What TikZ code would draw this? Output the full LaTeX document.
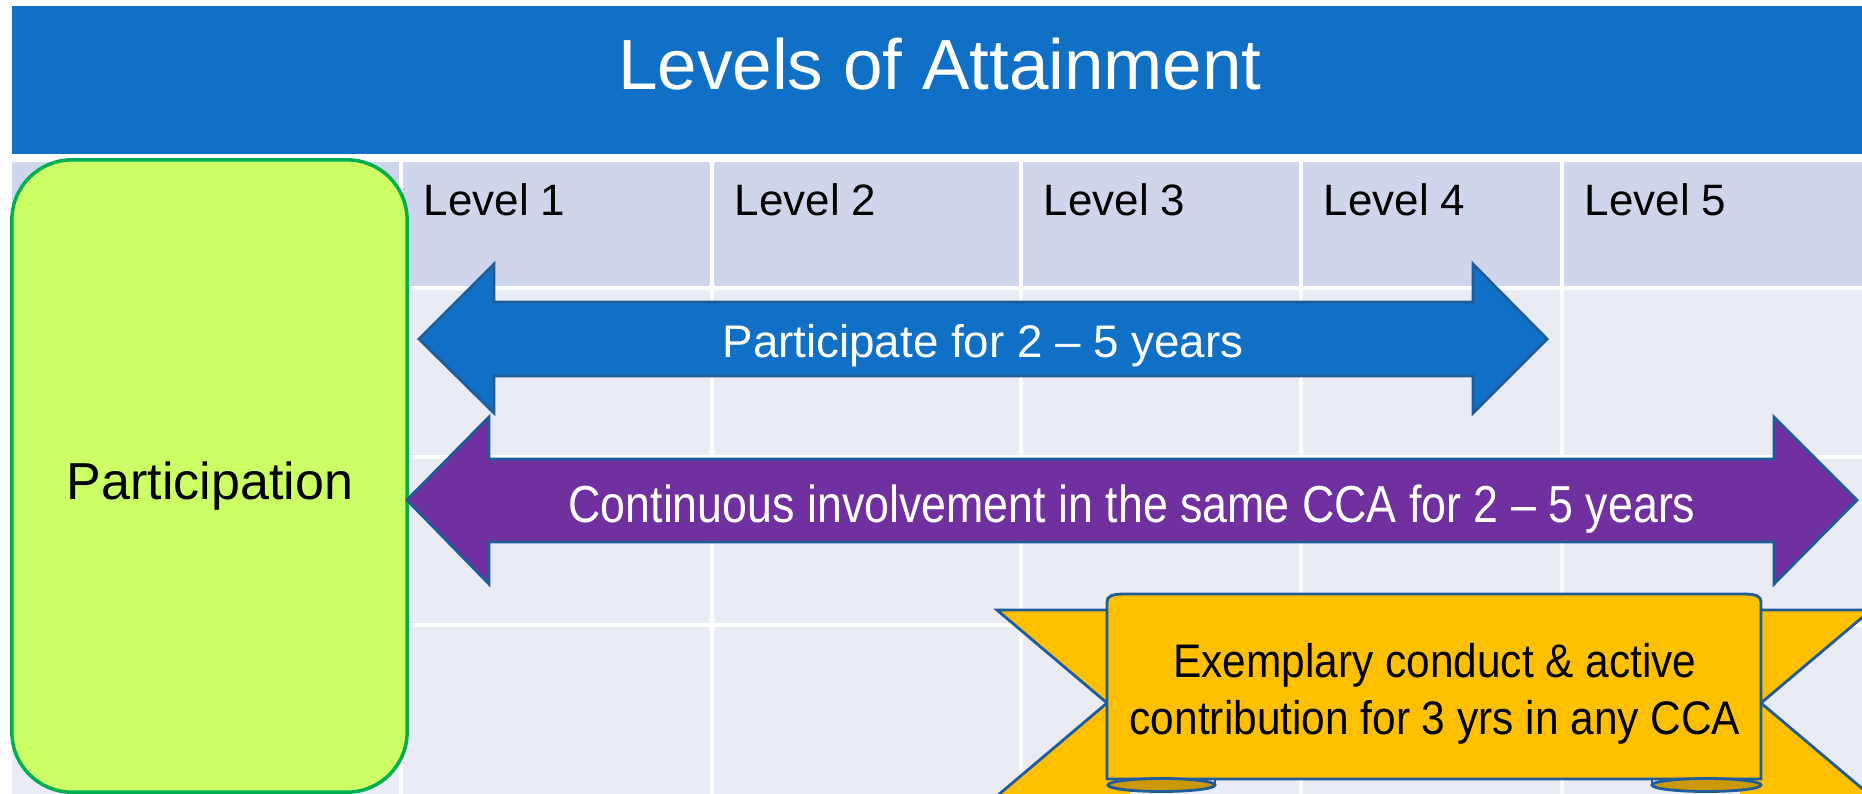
\documentclass[tikz,border=0pt]{standalone}
\usepackage{fontspec}
\setmainfont{Liberation Sans}
\newfontfamily\narrowfont[FakeStretch=0.86]{Liberation Sans}
\newfontfamily\ribbonfont[FakeStretch=0.9]{Liberation Sans}
\usetikzlibrary{positioning}

\definecolor{bannerblue}{HTML}{1070C6}
\definecolor{headrow}{HTML}{CFD5EA}
\definecolor{bodyrow}{HTML}{E9EBF5}
\definecolor{partgreen}{HTML}{CCFF66}
\definecolor{partedge}{HTML}{00B050}
\definecolor{arrowpurple}{HTML}{7030A0}
\definecolor{arrowedge}{HTML}{1F5C99}
\definecolor{ribbongold}{HTML}{FFC000}
\definecolor{folddark}{HTML}{C99A06}

\begin{document}
\begin{tikzpicture}
        [x=0.01cm,y=-0.01cm,
        levellabel/.style={anchor=base west,inner sep=0pt,
          font=\fontsize{12.5pt}{15pt}\selectfont},
        bigarrow/.style={draw=arrowedge,line width=0.8pt},
        arrowtext/.style={anchor=base,inner sep=0pt,text=white},
        ribbonpart/.style={draw=arrowedge,line width=0.8pt,fill=ribbongold}]
        \useasboundingbox (0,0) rectangle (1862,793);
        \clip (0,0) rectangle (1862,793);
        \fill[white] (0,0) rectangle (1862,793);
        %% title banner
        \fill[bannerblue] (12,6) rectangle (1870,154);
        \node[anchor=base,inner sep=0pt,text=white,
          font=\fontsize{20.2pt}{24pt}\selectfont] (title) at (940,89)
          {Levels of Attainment};
        %% table cells
        \foreach \xa/\xb in {10/401,401/712,712/1021,1021/1301,1301/1562,1562/1880}
        {
          \fill[headrow] (\xa+2,162) rectangle (\xb-2,286);
          \foreach \ya/\yb in {288/457,457/625,625/810}
            \fill[bodyrow] (\xa+2,\ya+2) rectangle (\xb-2,\yb-2);
        }
        \foreach \n/\xa in {1/401,2/712,3/1021,4/1301,5/1562}
          \node[levellabel] (level\n) at (\xa+22,215) {Level \n};
        %% participation box
        \node[draw=partedge,fill=partgreen,line width=1pt,rounded corners=0.6cm,
          minimum width=3.95cm,minimum height=6.32cm] (partbox) at (209.5,476) {};
        \node[anchor=base,inner sep=0pt,font=\fontsize{14.8pt}{18pt}\selectfont]
          (partlabel) at (210,499) {Participation};
        %% arrows
        \draw[bigarrow,fill=bannerblue] (419,339) -- (494,264) -- (494,302)
          -- (1473,302) -- (1473,264) -- (1547,339) -- (1473,413) -- (1473,376)
          -- (494,376) -- (494,413) -- cycle;
        \node[arrowtext,font=\fontsize{13pt}{16pt}\selectfont] (years)
          at (983,357) {Participate for 2 – 5 years};
        \draw[bigarrow,fill=arrowpurple] (407,500) -- (489,417) -- (489,459)
          -- (1774,459) -- (1774,417) -- (1857,500) -- (1774,584) -- (1774,542)
          -- (489,542) -- (489,584) -- cycle;
        \node[arrowtext,font=\narrowfont\fontsize{14.8pt}{18pt}\selectfont] (sameCCA)
          at (1132,522) {Continuous involvement in the same CCA for 2 – 5 years};
        %% ribbon
        \draw[ribbonpart] (1130,610) -- (997,610) -- (1107,703) -- (997,796) -- (1130,796);
        \draw[ribbonpart] (1740,610) -- (1871,610) -- (1761,703) -- (1871,796) -- (1740,796);
        \draw[ribbonpart] (1107,779) -- (1107,602) .. controls (1107,596) and (1112,594)
          .. (1125,594) -- (1743,594) .. controls (1756,594) and (1761,596)
          .. (1761,602) -- (1761,779) -- cycle;
        \draw[ribbonpart,fill=folddark] (1161.5,785) ellipse [x radius=53.5,y radius=6.5];
        \draw[ribbonpart,fill=folddark] (1706.5,785) ellipse [x radius=54.5,y radius=6.5];
        \draw[arrowedge,line width=0.8pt] (1215,779) -- (1215,785);
        \draw[arrowedge,line width=0.8pt] (1652,779) -- (1652,785);
        \node[align=center,inner sep=0pt,
          font=\ribbonfont\fontsize{13.4pt}{16.2pt}\selectfont] (conduct) at (1435,694)
          {Exemplary conduct \& active\\contribution for 3 yrs in any CCA};
\end{tikzpicture}
\end{document}
